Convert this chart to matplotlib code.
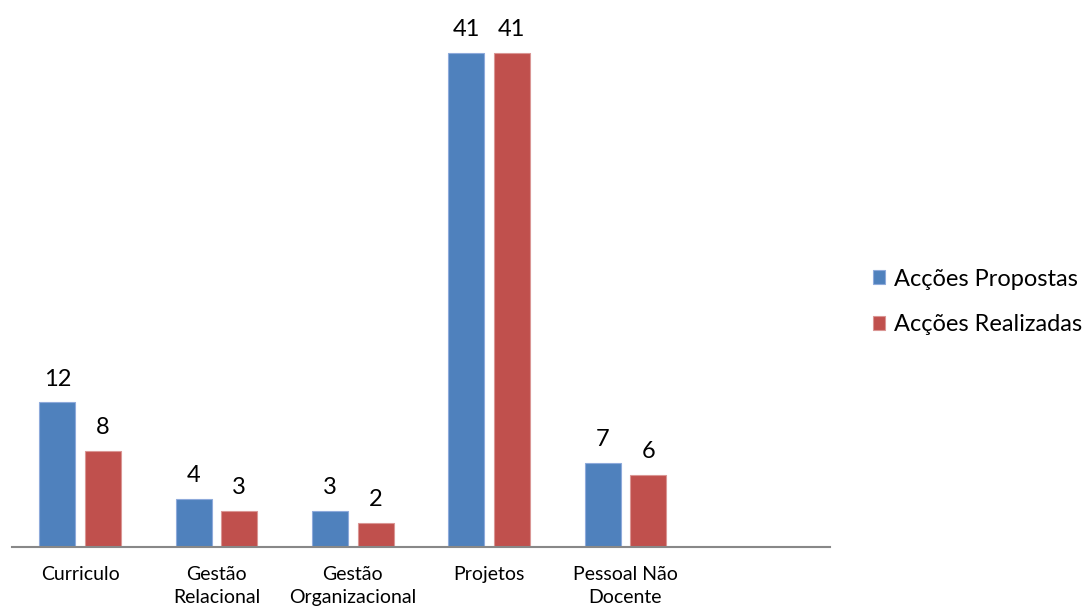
import matplotlib
matplotlib.use('Agg')
from matplotlib import pyplot as plt
import numpy as np

categories = ['Curriculo', 'Gestão\nRelacional', 'Gestão\nOrganizacional', 'Projetos', 'Pessoal Não\nDocente', '']
propostas = [12, 4, 3, 41, 7]
realizadas = [8, 3, 2, 41, 6]
series_names = ['Acções Propostas', 'Acções Realizadas']

plt.rcParams['font.family'] = ['Lato', 'DejaVu Sans']

fig = plt.figure(figsize=(10.9, 6.08), dpi=100)
ax = fig.add_axes([12 / 1090, 1 - 547 / 608, 818 / 1090, (547 - 4.8) / 608])

x = np.arange(len(categories))
w = 0.264
off = 0.167
b1 = ax.bar(x[:len(propostas)] - off, propostas, w, color='#4F81BD', edgecolor='#8EAADB', linewidth=0.8,
            label=series_names[0])
b2 = ax.bar(x[:len(realizadas)] + off, realizadas, w, color='#C0504D', edgecolor='#DA9694', linewidth=0.8,
            label=series_names[1])

for bars in (b1, b2):
    ax.bar_label(bars, padding=9, fontsize=17, color='black')

ax.set_xlim(-0.5, len(categories) - 0.5)
ax.set_ylim(0, 45)
ax.set_xticks(x)
ax.set_xticklabels(categories, fontsize=14, linespacing=1.38)
ax.tick_params(axis='x', length=0, pad=14)
ax.set_yticks([])
for s in ['top', 'right', 'left']:
    ax.spines[s].set_visible(False)
ax.spines['bottom'].set_color('#888888')
ax.spines['bottom'].set_linewidth(1.5)

fig.legend(handles=[b1, b2], loc='center left', bbox_to_anchor=(852 / 1090, 1 - 302 / 608),
           frameon=False, fontsize=17, handlelength=0.5, handleheight=0.5,
           handletextpad=0.4, labelspacing=1.05)

fig.savefig('out.png', dpi=100)
